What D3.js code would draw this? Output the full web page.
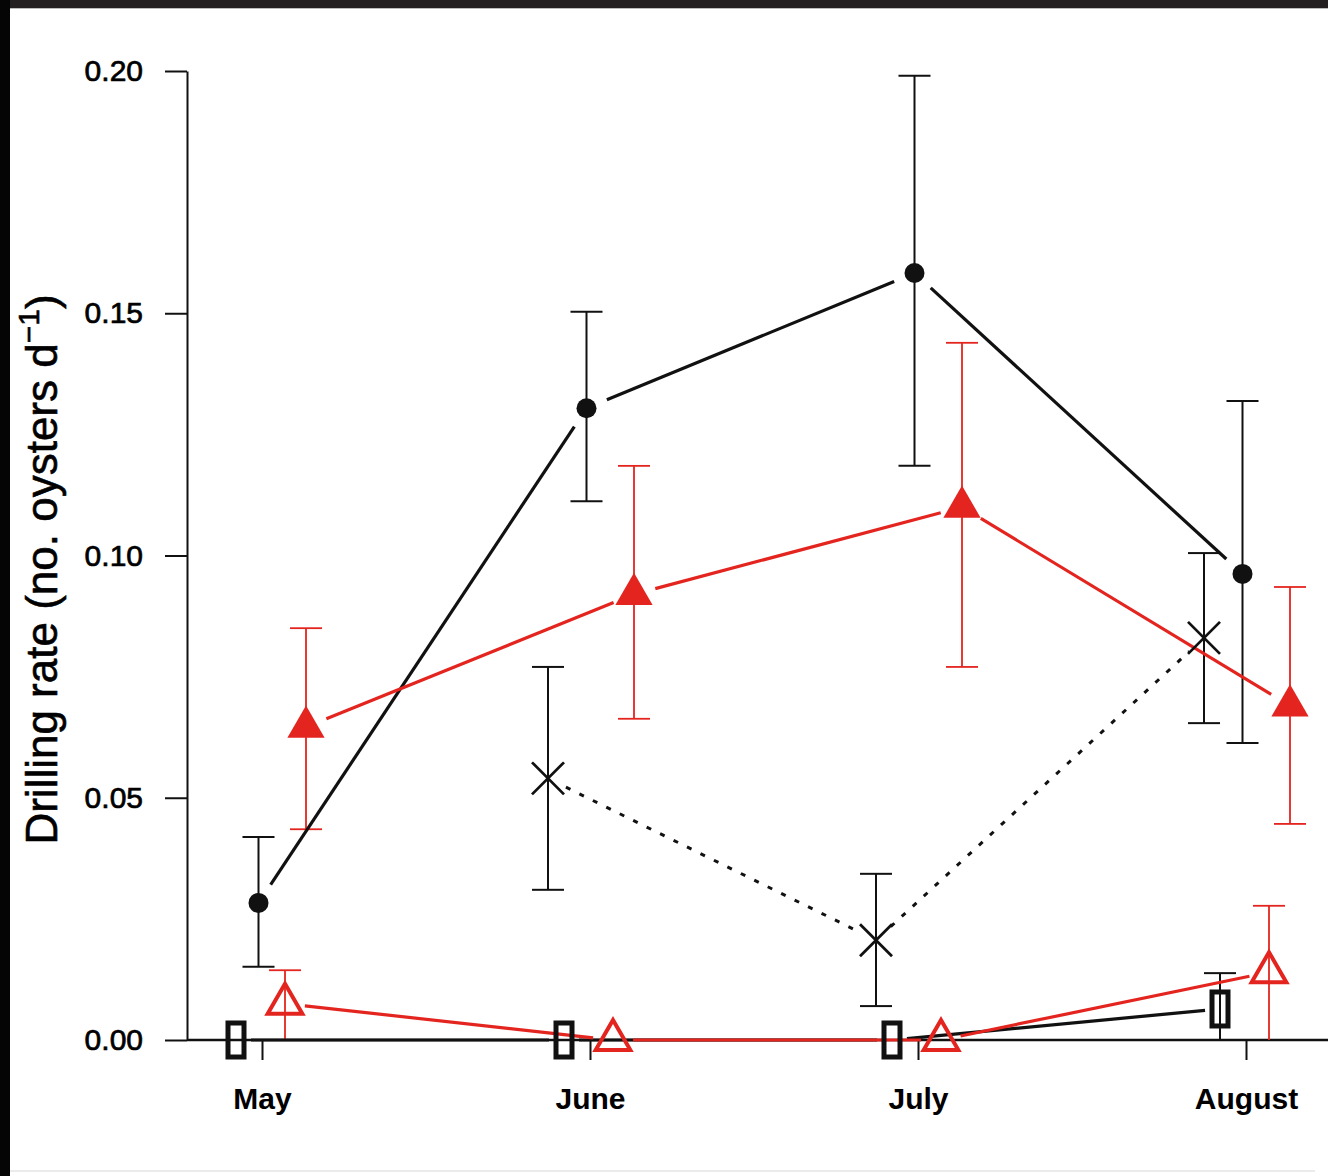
<!DOCTYPE html>
<html>
<head>
<meta charset="utf-8">
<script src="https://cdn.jsdelivr.net/npm/d3@7"></script>
<style>
  html, body { margin: 0; padding: 0; background: #fff; }
  svg { display: block; }
  text { font-family: "Liberation Sans", Arial, Helvetica, sans-serif; }
</style>
</head>
<body>
<svg id="chart" width="1328" height="1176"></svg>
<script>
// ---------- data ----------
const months = ["May", "June", "July", "August"];
const yTicks = [0.00, 0.05, 0.10, 0.15, 0.20];

// black filled circles
const dotMean = [0.0283, 0.1304, 0.1583, 0.0962];
const dotLo   = [0.0151, 0.1112, 0.1185, 0.0613];
const dotHi   = [0.0419, 0.1503, 0.1990, 0.1319];

// red filled triangles
const triMean = [0.0646, 0.0920, 0.1100, 0.0690];
const triLo   = [0.0435, 0.0663, 0.0770, 0.0446];
const triHi   = [0.0850, 0.1185, 0.1439, 0.0935];

// black crosses (no May value)
const crossMean = [null, 0.0540, 0.0206, 0.0830];
const crossLo   = [null, 0.0310, 0.0070, 0.0654];
const crossHi   = [null, 0.0770, 0.0343, 0.1005];

// red open triangles
const openMean = [0.0075, 0.0000, 0.0000, 0.0140];
const openLo   = [0.0000, null, null, 0.0000];
const openHi   = [0.0144, null, null, 0.0277];

// black open rectangles
const sqMean = [0.0000, 0.0000, 0.0000, 0.0064];
const sqLo   = [null, null, null, 0.0000];
const sqHi   = [null, null, null, 0.0138];

// ---------- layout / styles ----------
const W = 1328, H = 1176;
const RED = "#e4251f", BLACK = "#111";
const svg = d3.select("#chart");

const x = d3.scaleLinear().domain([0, 3]).range([262, 1246]);
const y = d3.scaleLinear().domain([0, 0.20]).range([1040, 71]);
const axisX = 187;

// frame edges of the scanned figure
svg.append("rect").attr("x", 0).attr("y", 0).attr("width", W).attr("height", 8).attr("fill", "#231f20");
svg.append("rect").attr("x", 0).attr("y", 0).attr("width", 10).attr("height", H).attr("fill", "#050505");
svg.append("line").attr("x1", 10).attr("x2", W).attr("y1", 8.5).attr("y2", 8.5).attr("stroke", "#bbb").attr("stroke-width", 1);
svg.append("line").attr("x1", 10).attr("x2", 1315).attr("y1", 1171).attr("y2", 1171).attr("stroke", "#e4e4e4").attr("stroke-width", 1.5);

// y axis
const yAxis = d3.axisLeft(y).tickValues(yTicks).tickFormat(d3.format(".2f"))
  .tickSize(22).tickSizeOuter(0).tickPadding(22);
const gy = svg.append("g").attr("transform", `translate(${axisX},0)`).call(yAxis);
gy.select(".domain").attr("stroke", BLACK).attr("stroke-width", 2);
gy.selectAll(".tick line").attr("stroke", BLACK).attr("stroke-width", 2);
gy.selectAll(".tick text").attr("font-size", 30).attr("fill", "#000")
  .attr("stroke", "#000").attr("stroke-width", 0.7)
  .attr("font-family", "'Liberation Sans', Arial, sans-serif");

// zero baseline across the plot
svg.append("line").attr("x1", axisX).attr("x2", W).attr("y1", y(0)).attr("y2", y(0))
  .attr("stroke", BLACK).attr("stroke-width", 2.5);

// x axis ticks + labels
const xAxis = d3.axisBottom(x).tickValues([0, 1, 2, 3]).tickFormat(i => months[i])
  .tickSize(20).tickSizeOuter(0).tickPadding(28);
const gx = svg.append("g").attr("transform", `translate(0,${y(0)})`).call(xAxis);
gx.select(".domain").remove();
gx.selectAll(".tick line").attr("stroke", BLACK).attr("stroke-width", 2);
gx.selectAll(".tick text").attr("font-size", 30).attr("font-weight", "bold").attr("fill", "#000")
  .attr("font-family", "'Liberation Sans', Arial, sans-serif");

// y label
const yl = svg.append("text")
  .attr("transform", `translate(57,${(y(0) + y(0.2)) / 2 + 14}) rotate(-90)`)
  .attr("text-anchor", "middle").attr("font-size", 44).attr("fill", "#000")
  .attr("stroke", "#000").attr("stroke-width", 0.6);
yl.append("tspan").text("Drilling rate (no. oysters d");
yl.append("tspan").attr("font-size", 30).attr("dy", -18).text("\u22121");
yl.append("tspan").attr("dy", 18).text(")");

// ---------- helpers ----------
const series = [
  { mean: crossMean, lo: crossLo, hi: crossHi, off: -42, color: BLACK, ew: 2, lw: 3, dash: "5,10", gap: 20, mark: "cross" },
  { mean: sqMean, lo: sqLo, hi: sqHi, off: -26, color: BLACK, ew: 2, lw: 3.2, dash: null, gap: 15, mark: "rect" },
  { mean: dotMean, lo: dotLo, hi: dotHi, off: -3.5, color: BLACK, ew: 2, lw: 3.2, dash: null, gap: 22, mark: "dot" },
  { mean: openMean, lo: openLo, hi: openHi, off: 23, color: RED, ew: 1.8, lw: 3.2, dash: null, gap: 20, mark: "otri" },
  { mean: triMean, lo: triLo, hi: triHi, off: 44, color: RED, ew: 1.8, lw: 3.2, dash: null, gap: 22, mark: "tri" }
];

function pts(s) {
  return s.mean.map((v, i) => v == null ? null : { i, px: x(i) + s.off, py: y(v) }).filter(d => d);
}

const capW = 16;
// error bars
series.forEach(s => {
  const g = svg.append("g").attr("stroke", s.color).attr("stroke-width", s.ew).attr("fill", "none");
  s.mean.forEach((v, i) => {
    if (v == null || s.hi[i] == null) return;
    const px = x(i) + s.off;
    g.append("line").attr("x1", px).attr("x2", px).attr("y1", y(s.lo[i])).attr("y2", y(s.hi[i]));
    g.append("line").attr("x1", px - capW).attr("x2", px + capW).attr("y1", y(s.hi[i])).attr("y2", y(s.hi[i]));
    if (s.lo[i] > 0)
      g.append("line").attr("x1", px - capW).attr("x2", px + capW).attr("y1", y(s.lo[i])).attr("y2", y(s.lo[i]));
  });
});

// connecting lines with gaps around points (R type="b")
series.forEach(s => {
  const p = pts(s);
  for (let k = 0; k < p.length - 1; k++) {
    const a = p[k], b = p[k + 1];
    const dx = b.px - a.px, dy = b.py - a.py, L = Math.hypot(dx, dy);
    if (L <= 2 * s.gap) continue;
    const ux = dx / L, uy = dy / L;
    const ln = svg.append("line")
      .attr("x1", a.px + ux * s.gap).attr("y1", a.py + uy * s.gap)
      .attr("x2", b.px - ux * s.gap).attr("y2", b.py - uy * s.gap)
      .attr("stroke", s.color).attr("stroke-width", s.lw);
    if (s.dash) ln.attr("stroke-dasharray", s.dash);
  }
});

// markers
series.forEach(s => {
  const p = pts(s);
  const g = svg.append("g");
  p.forEach(d => {
    if (s.mark === "dot") {
      g.append("circle").attr("cx", d.px).attr("cy", d.py).attr("r", 10).attr("fill", s.color);
    } else if (s.mark === "tri") {
      g.append("path").attr("transform", `translate(${d.px},${d.py})`)
        .attr("d", d3.symbol(d3.symbolTriangle, 600)()).attr("fill", s.color);
    } else if (s.mark === "otri") {
      g.append("path").attr("transform", `translate(${d.px},${d.py})`)
        .attr("d", d3.symbol(d3.symbolTriangle, 520)()).attr("fill", "none")
        .attr("stroke", s.color).attr("stroke-width", 4).attr("stroke-linejoin", "miter");
    } else if (s.mark === "rect") {
      g.append("rect").attr("x", d.px - 8).attr("y", d.py - 17).attr("width", 16).attr("height", 34)
        .attr("fill", "none").attr("stroke", s.color).attr("stroke-width", 5);
    } else if (s.mark === "cross") {
      const h = 16;
      g.append("path")
        .attr("d", `M${d.px - h},${d.py - h}L${d.px + h},${d.py + h}M${d.px - h},${d.py + h}L${d.px + h},${d.py - h}`)
        .attr("stroke", s.color).attr("stroke-width", 2.8).attr("fill", "none");
    }
  });
});
</script>
</body>
</html>
